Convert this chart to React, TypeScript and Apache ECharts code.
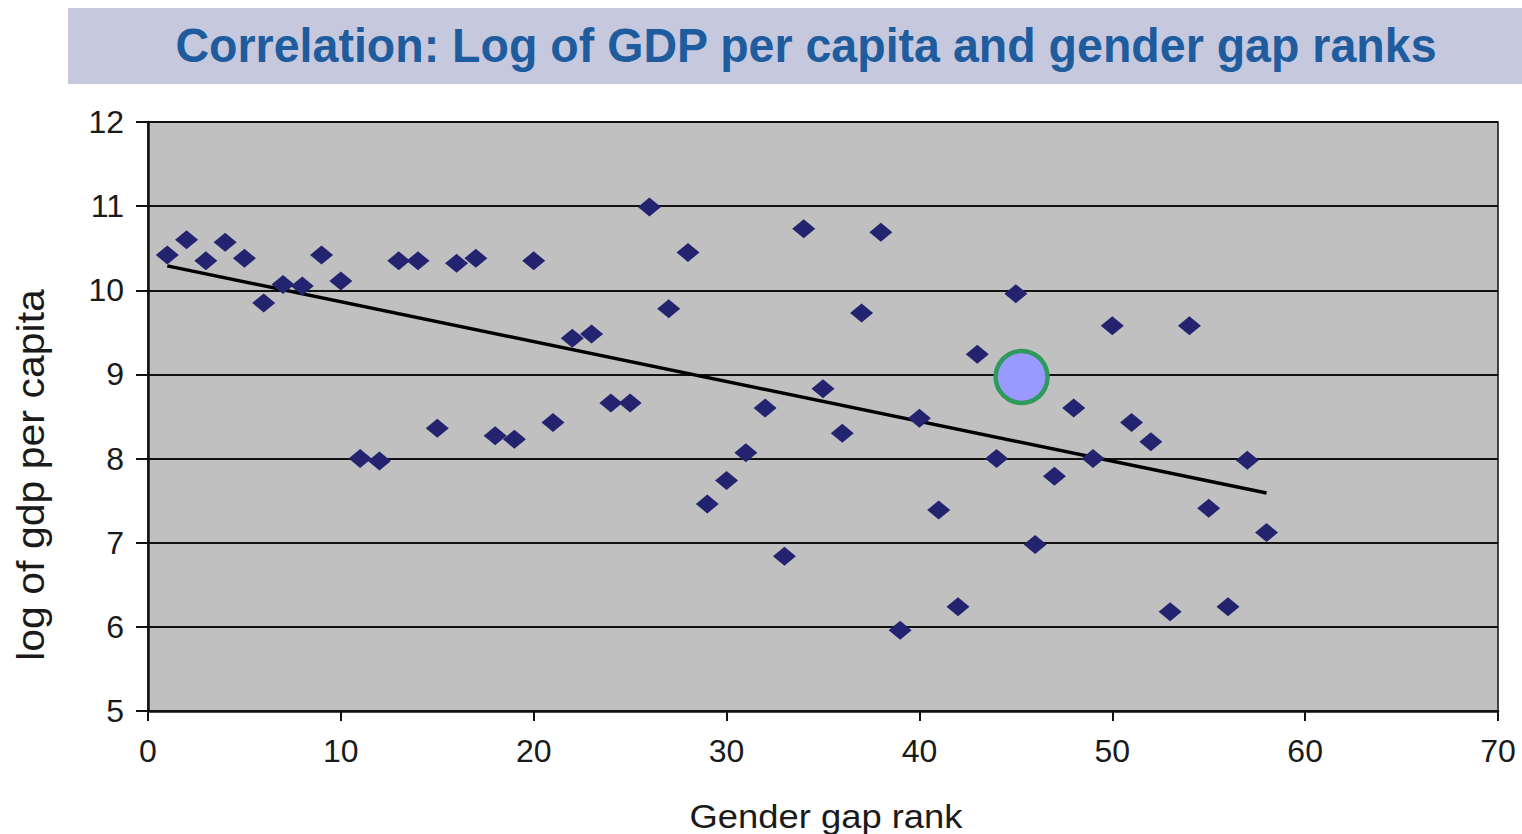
import React, { useEffect, useRef } from "react";
import * as echarts from "echarts";

const titleText = "Correlation: Log of GDP per capita and gender gap ranks";
const xAxisName = "Gender gap rank";
const yAxisName = "log of gdp per capita";

const ranks = [
  1, 2, 3, 4, 5, 6, 7, 8, 9, 10, 11, 12, 13, 14, 15, 16, 17, 18, 19, 20,
  21, 22, 23, 24, 25, 26, 27, 28, 29, 30, 31, 32, 33, 34, 35, 36, 37, 38, 39, 40,
  41, 42, 43, 44, 45, 46, 47, 48, 49, 50, 51, 52, 53, 54, 55, 56, 57, 58,
];
const logGdp = [
  10.42, 10.6, 10.35, 10.57, 10.38, 9.85, 10.07, 10.05, 10.42, 10.11,
  8.0, 7.97, 10.35, 10.35, 8.36, 10.32, 10.38, 8.27, 8.23, 10.35,
  8.43, 9.43, 9.48, 8.66, 8.66, 10.99, 9.78, 10.45, 7.46, 7.74,
  8.07, 8.6, 6.84, 10.73, 8.83, 8.3, 9.73, 10.69, 5.96, 8.48,
  7.39, 6.24, 9.24, 8.0, 9.96, 6.98, 7.79, 8.6, 8.0, 9.58,
  8.43, 8.2, 6.18, 9.58, 7.41, 6.24, 7.98, 7.12,
];
const trendX = [1, 58];
const trendY = [10.29, 7.59];
const highlightX = [45.3];
const highlightY = [8.97];

const xTicks = { min: 0, max: 70, interval: 10 };
const yTicks = { min: 5, max: 12, interval: 1 };

export default function App() {
  const ref = useRef<HTMLDivElement>(null);
  useEffect(() => {
    if (!ref.current) return;
    const chart = echarts.init(ref.current, null, { renderer: "svg" });
    const font = "'Liberation Sans', Arial, sans-serif";
    chart.setOption({
      animation: false,
      backgroundColor: "#ffffff",
      textStyle: { fontFamily: font },
      graphic: [
        {
          type: "rect",
          shape: { x: 68, y: 8, width: 1454, height: 76 },
          style: { fill: "#C6C9DE" },
          z: 0,
        },
        {
          type: "text",
          x: 806,
          y: 45,
          scaleX: 0.95,
          style: {
            text: titleText,
            fill: "#1F5C9E",
            font: `bold 49px ${font}`,
            align: "center",
            verticalAlign: "middle",
          },
          z: 1,
        },
        {
          type: "text",
          x: 826,
          y: 816,
          scaleX: 1.07,
          style: {
            text: xAxisName,
            fill: "#1a1a1a",
            font: `34px ${font}`,
            align: "center",
            verticalAlign: "middle",
          },
          z: 1,
        },
        {
          type: "text",
          x: 31,
          y: 475,
          rotation: Math.PI / 2,
          scaleX: 1.08,
          style: {
            text: yAxisName,
            fill: "#1a1a1a",
            font: `38px ${font}`,
            align: "center",
            verticalAlign: "middle",
          },
          z: 1,
        },
      ],
      grid: {
        left: 148,
        top: 122,
        width: 1350,
        height: 589,
        outerBoundsMode: "none",
        containLabel: false,
        show: true,
        backgroundColor: "#C0C0C0",
        borderColor: "#111",
        borderWidth: 1.5,
      },
      xAxis: {
        type: "value",
        min: xTicks.min,
        max: xTicks.max,
        interval: xTicks.interval,
        axisLine: { show: true, onZero: false, lineStyle: { color: "#111", width: 2.5 } },
        axisTick: { show: true, length: 10, lineStyle: { color: "#111", width: 2 } },
        axisLabel: { fontSize: 32, color: "#1a1a1a", margin: 24, fontFamily: font },
        splitLine: { show: false },
      },
      yAxis: {
        type: "value",
        min: yTicks.min,
        max: yTicks.max,
        interval: yTicks.interval,
        axisLine: { show: true, onZero: false, lineStyle: { color: "#111", width: 2.5 } },
        axisTick: { show: true, length: 12, lineStyle: { color: "#111", width: 2 } },
        axisLabel: { fontSize: 32, color: "#1a1a1a", margin: 24, fontFamily: font },
        splitLine: { show: true, lineStyle: { color: "#111", width: 2 } },
      },
      series: [
        {
          type: "line",
          data: trendX.map((x, i) => [x, trendY[i]]),
          showSymbol: false,
          symbol: "none",
          lineStyle: { color: "#000", width: 3.5 },
          z: 3,
        },
        {
          type: "scatter",
          data: ranks.map((x, i) => [x, logGdp[i]]),
          symbol: "diamond",
          symbolSize: [23, 19],
          itemStyle: { color: "#23236F", opacity: 1 },
          z: 4,
        },
        {
          type: "scatter",
          data: highlightX.map((x, i) => [x, highlightY[i]]),
          symbol: "circle",
          symbolSize: 52,
          itemStyle: { color: "#9999FF", borderColor: "#2E9A5C", borderWidth: 4.5, opacity: 1 },
          z: 5,
        },
      ],
    });
    return () => chart.dispose();
  }, []);
  return (
    <div
      ref={ref}
      style={{ position: "fixed", left: 0, top: 0, width: 1522, height: 834 }}
    />
  );
}
